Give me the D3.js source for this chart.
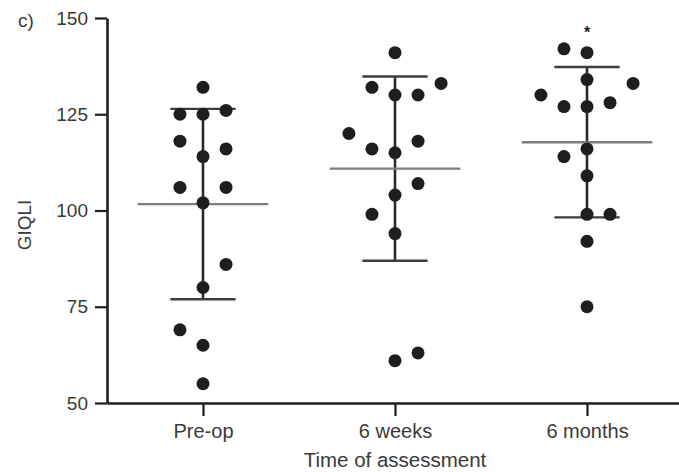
<!DOCTYPE html>
<html>
<head>
<meta charset="utf-8">
<script src="https://cdn.jsdelivr.net/npm/d3@7"></script>
<style>
  html, body { margin: 0; padding: 0; background: #fff; }
  svg { display: block; font-family: "Liberation Sans", Arial, sans-serif; }
</style>
</head>
<body>
<svg id="chart" width="679" height="472"></svg>
<script>
// GIQLI scores per assessment time, in patient order
const categories = ["Pre-op", "6 weeks", "6 months"];
const preOp     = [125, 132, 126, 125, 114, 116, 118, 102, 106, 106, 80, 86, 65, 69, 55];
const sixWeeks  = [130, 141, 130, 132, 133, 115, 116, 118, 120, 104, 107, 94, 99, 61, 63];
const sixMonths = [127, 128, 116, 114, 127, 134, 141, 142, 133, 130, 109, 99, 99, 92, 75];
const yTicks = [50, 75, 100, 125, 150];
const significance = [{ category: "6 months", mark: "*" }];

const groups = [preOp, sixWeeks, sixMonths];

const svg = d3.select("#chart");
const ink = "#1e1e1e";
const textColor = "#3a3a3a";

const y = d3.scaleLinear().domain([50, 150]).range([403, 18]);
const x = d3.scalePoint().domain(categories).range([107, 683]).padding(0.5);
const step = x.step();
const lane = step * 0.12;

// Spread tied values sideways: each point takes the central lane if free,
// otherwise the nearest free lane, preferring the side with more room.
function swarm(values, collide = 6.5) {
  const placed = [];
  return values.map(v => {
    const blocked = s => placed.some(p => p.slot === s && Math.abs(p.value - v) < collide);
    const gap = s => d3.min(placed.filter(p => p.slot === s), p => Math.abs(p.value - v)) ?? Infinity;
    let slot = 0;
    if (blocked(0)) {
      for (let k = 1; ; k++) {
        const free = [k, -k].filter(s => !blocked(s));
        if (free.length) {
          slot = (free.length === 2 && gap(-k) > gap(k)) ? -k : free[0];
          break;
        }
      }
    }
    const p = { value: v, slot };
    placed.push(p);
    return p;
  });
}

// axes
const yAxis = d3.axisLeft(y).tickValues(yTicks).tickSize(12).tickSizeOuter(0).tickPadding(7);
const xAxis = d3.axisBottom(x).tickSize(13).tickSizeOuter(0).tickPadding(8);

const gy = svg.append("g").attr("transform", "translate(107,0)").call(yAxis);
const gx = svg.append("g").attr("transform", "translate(0,403)").call(xAxis);

[gx, gy].forEach(g => {
  g.selectAll("path.domain").attr("stroke", ink).attr("stroke-width", 2.6);
  g.selectAll(".tick line").attr("stroke", ink).attr("stroke-width", 2.2);
  g.selectAll(".tick text")
    .attr("fill", textColor)
    .style("font-family", "'Liberation Sans', Arial, sans-serif");
});
gy.selectAll(".tick text").style("font-size", "19px");
gx.selectAll(".tick text").style("font-size", "20px");

// mean and SD per group
const stats = groups.map((vals, i) => ({
  category: categories[i],
  mean: d3.mean(vals),
  sd: d3.deviation(vals)
}));

const marks = svg.append("g");

stats.forEach(s => {
  const cx = x(s.category);
  // SD whisker
  marks.append("line")
    .attr("x1", cx).attr("x2", cx)
    .attr("y1", y(s.mean + s.sd)).attr("y2", y(s.mean - s.sd))
    .attr("stroke", "#2a2a2a").attr("stroke-width", 2.6);
  [s.mean + s.sd, s.mean - s.sd].forEach(v => {
    marks.append("line")
      .attr("x1", cx - step * 0.17).attr("x2", cx + step * 0.17)
      .attr("y1", y(v)).attr("y2", y(v))
      .attr("stroke", "#3c3c3c").attr("stroke-width", 2.4);
  });
  // mean
  marks.append("line")
    .attr("x1", cx - step * 0.34).attr("x2", cx + step * 0.34)
    .attr("y1", y(s.mean)).attr("y2", y(s.mean))
    .attr("stroke", "#7d7d7d").attr("stroke-width", 2.4);
});

// individual patients
groups.forEach((vals, i) => {
  const cat = categories[i];
  marks.append("g")
    .selectAll("circle")
    .data(swarm(vals))
    .join("circle")
    .attr("cx", d => x(cat) + d.slot * lane)
    .attr("cy", d => y(d.value))
    .attr("r", 6.5)
    .attr("fill", ink);
});

// significance marker above the group's highest score
significance.forEach(a => {
  const vals = groups[categories.indexOf(a.category)];
  svg.append("text")
    .attr("x", x(a.category))
    .attr("y", y(d3.max(vals)) - 11)
    .attr("text-anchor", "middle")
    .attr("fill", ink)
    .style("font-size", "16px")
    .style("font-weight", "bold")
    .text(a.mark);
});

// titles
svg.append("text")
  .attr("x", x(categories[1]))
  .attr("y", 467)
  .attr("text-anchor", "middle")
  .attr("fill", textColor)
  .style("font-size", "20.5px")
  .text("Time of assessment");

svg.append("text")
  .attr("transform", "translate(31,225) rotate(-90)")
  .attr("text-anchor", "middle")
  .attr("fill", textColor)
  .style("font-size", "19px")
  .text("GIQLI");

svg.append("text")
  .attr("x", 18)
  .attr("y", 27)
  .attr("fill", textColor)
  .style("font-size", "19px")
  .text("c)");
</script>
</body>
</html>
